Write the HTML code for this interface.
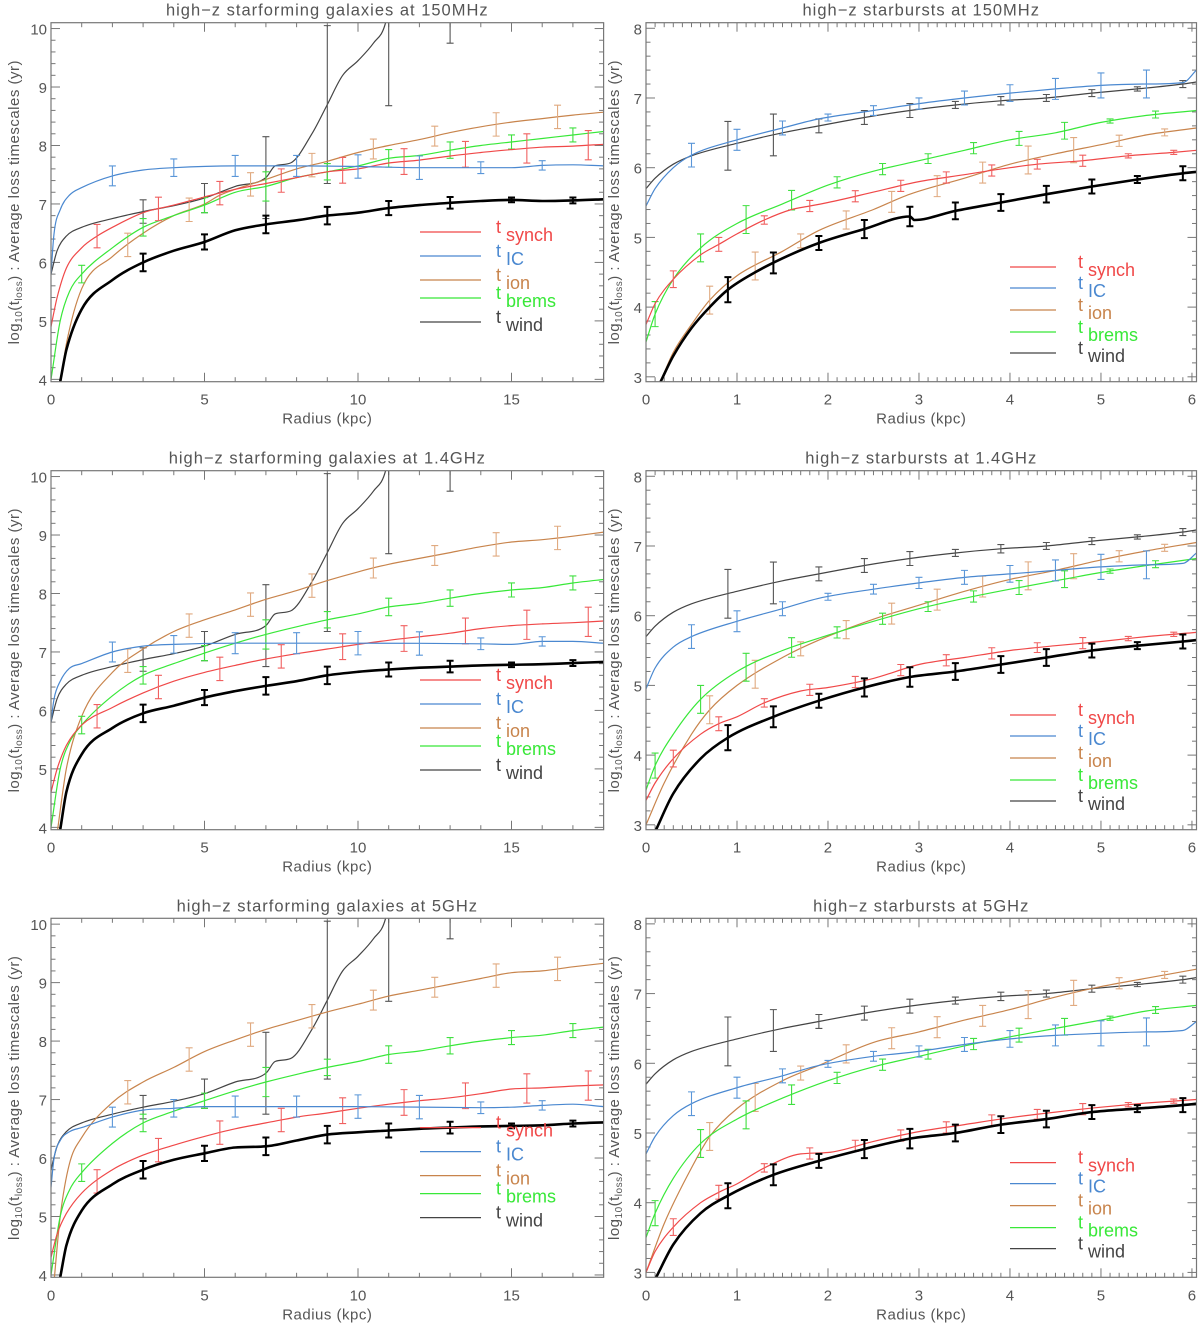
<!DOCTYPE html>
<html><head><meta charset="utf-8"><style>
html,body{margin:0;padding:0;background:#fff;}
svg{display:block;font-family:"Liberation Sans",sans-serif;}
</style></head><body>
<svg id="fig" width="1200" height="1324" viewBox="0 0 1200 1324" xmlns="http://www.w3.org/2000/svg"></svg>
<script>
// ---- data ----
const titles = ["high\u2212z starforming galaxies at 150MHz","high\u2212z starbursts at 150MHz","high\u2212z starforming galaxies at 1.4GHz","high\u2212z starbursts at 1.4GHz","high\u2212z starforming galaxies at 5GHz","high\u2212z starbursts at 5GHz"];
const leftXTicks = [0,5,10,15];
const rightXTicks = [0,1,2,3,4,5,6];
const leftYTicks = [4,5,6,7,8,9,10];
const rightYTicks = [3,4,5,6,7,8];
const legendNames = ["synch","IC","ion","brems","wind"];

const windL = [[0,5.8],[0.2,6.2],[0.5,6.45],[1,6.6],[2,6.75],[3,6.87],[4,6.97],[5,7.1],[6,7.3],[7,7.45],[7.3,7.65],[7.8,7.7],[8.5,8.2],[9,8.7],[9.5,9.2],[10,9.45],[10.5,9.75],[10.9,10.1],[11,10.4],[12,10.7],[13,11.0],[18,12]];
const windLErr = [[3,0.2],[5,0.25],[7,0.7],[9,1.35],[11,1.72],[13,1.25]];
const windR = [[0,5.7],[0.1,5.85],[0.3,6.05],[0.5,6.17],[1,6.35],[1.5,6.5],[1.9,6.6],[2.4,6.72],[2.9,6.82],[3.4,6.9],[3.9,6.96],[4.4,7.0],[4.9,7.07],[5.4,7.13],[5.9,7.2],[6.05,7.23]];
const windRErr = [[0.9,0.35],[1.4,0.3],[1.9,0.1],[2.4,0.1],[2.9,0.1],[3.4,0.05],[3.9,0.06],[4.4,0.05],[4.9,0.05],[5.4,0.03],[5.9,0.05]];

const A_total=[[0.3,3.96],[0.5,4.5],[1,5.2],[2,5.7],[3,6.0],[4,6.2],[5,6.35],[6,6.55],[7,6.65],[8,6.72],[9,6.8],[10,6.85],[11,6.93],[12,6.98],[13,7.02],[14,7.05],[15,7.07],[16,7.05],[17,7.06],[18,7.08]];
const A_synch=[[0,4.9],[0.2,5.4],[0.5,5.9],[1,6.25],[1.5,6.45],[2,6.6],[3,6.85],[4,6.98],[5,7.12],[6,7.25],[7,7.35],[8,7.45],[9,7.55],[10,7.6],[11,7.7],[12,7.75],[13,7.82],[14,7.88],[15,7.93],[16,7.97],[17,7.99],[18,8.02]];
const A_IC=[[0,5.8],[0.1,6.5],[0.3,6.9],[0.6,7.15],[1,7.28],[2,7.48],[3,7.58],[4,7.62],[6,7.65],[8,7.65],[10,7.64],[12,7.62],[14,7.62],[15,7.62],[16,7.66],[17,7.67],[18,7.65]];
const A_ion=[[0.3,3.9],[0.5,4.6],[1,5.55],[2,6.1],[3,6.5],[4,6.8],[5,7.0],[5.5,7.15],[6,7.25],[7,7.42],[8,7.6],[9,7.73],[10,7.88],[11,8.0],[12,8.1],[13,8.22],[14,8.32],[15,8.4],[16,8.46],[17,8.52],[18,8.57]];
const A_brems=[[0,4.0],[0.3,5.0],[0.6,5.5],[1,5.8],[2,6.25],[3,6.6],[4,6.8],[5,6.98],[6,7.2],[7,7.3],[8,7.45],[9,7.55],[10,7.65],[11,7.78],[12,7.83],[13,7.92],[14,8.0],[15,8.06],[16,8.12],[17,8.18],[18,8.24]];
const C_total=[[0.3,3.96],[0.5,4.6],[1,5.25],[2,5.7],[3,5.95],[4,6.08],[5,6.22],[6,6.33],[7,6.42],[8,6.5],[9,6.6],[10,6.66],[11,6.7],[12,6.73],[13,6.75],[14,6.77],[15,6.78],[16,6.79],[17,6.81],[18,6.83]];
const C_synch=[[0,4.6],[0.2,5.0],[0.5,5.4],[1,5.75],[2,6.05],[3,6.3],[4,6.5],[5,6.65],[6,6.77],[7,6.88],[8,6.97],[9,7.05],[10,7.13],[11,7.2],[12,7.26],[13,7.32],[14,7.4],[15,7.45],[16,7.48],[17,7.5],[18,7.53]];
const C_IC=[[0,5.8],[0.1,6.2],[0.3,6.5],[0.6,6.72],[1,6.8],[2,7.0],[3,7.1],[4,7.13],[6,7.15],[10,7.15],[14,7.14],[15,7.13],[16,7.18],[17,7.18],[18,7.15]];
const C_ion=[[0.2,3.9],[0.5,5.0],[1,5.9],[2,6.65],[3,7.05],[4,7.35],[5,7.55],[6,7.72],[7,7.9],[8,8.05],[9,8.22],[10,8.37],[11,8.5],[12,8.6],[13,8.7],[14,8.8],[15,8.88],[16,8.92],[17,8.98],[18,9.05]];
const C_brems=[[0,4.0],[0.3,5.0],[0.6,5.45],[1,5.75],[2,6.25],[3,6.6],[4,6.8],[5,6.98],[6,7.15],[7,7.3],[8,7.43],[9,7.55],[10,7.65],[11,7.77],[12,7.83],[13,7.92],[14,8.0],[15,8.06],[16,8.1],[17,8.18],[18,8.24]];
const E_total=[[0.3,3.96],[0.5,4.5],[1,5.1],[2,5.55],[3,5.8],[4,5.97],[5,6.08],[6,6.18],[7,6.2],[8,6.3],[9,6.4],[10,6.44],[11,6.47],[12,6.5],[13,6.52],[14,6.54],[15,6.55],[16,6.56],[17,6.59],[18,6.61]];
const E_synch=[[0,4.3],[0.2,4.7],[0.5,5.05],[1,5.4],[2,5.8],[3,6.05],[4,6.22],[5,6.37],[6,6.5],[7,6.6],[8,6.7],[9,6.77],[10,6.85],[11,6.92],[12,6.98],[13,7.03],[14,7.1],[15,7.18],[16,7.2],[17,7.23],[18,7.25]];
const E_IC=[[0,5.5],[0.1,6.0],[0.3,6.3],[0.6,6.45],[1,6.52],[2,6.7],[3,6.82],[4,6.85],[5,6.88],[10,6.88],[14,6.86],[15,6.87],[16,6.9],[17,6.92],[18,6.88]];
const E_ion=[[0.1,3.9],[0.3,5.0],[0.6,5.9],[1,6.35],[2,6.95],[3,7.3],[4,7.55],[5,7.82],[6,8.02],[7,8.2],[8,8.35],[9,8.5],[10,8.63],[11,8.77],[12,8.87],[13,8.97],[14,9.07],[15,9.17],[16,9.2],[17,9.27],[18,9.33]];
const E_brems=C_brems;
const B_total=[[0.15,2.9],[0.3,3.3],[0.5,3.7],[0.7,4.0],[0.9,4.25],[1.2,4.5],[1.5,4.7],[1.9,4.92],[2.4,5.12],[2.9,5.3],[2.95,5.25],[3.4,5.38],[3.9,5.5],[4.4,5.62],[4.9,5.73],[5.4,5.83],[5.9,5.92],[6.05,5.94]];
const B_synch=[[0,3.75],[0.1,4.05],[0.3,4.4],[0.6,4.75],[0.8,4.9],[1,5.05],[1.3,5.25],[1.6,5.4],[1.8,5.45],[2,5.5],[2.5,5.65],[3,5.8],[3.5,5.9],[4,6.0],[4.3,6.05],[4.8,6.1],[5.3,6.17],[5.8,6.22],[6.05,6.25]];
const B_IC=[[0,5.45],[0.1,5.7],[0.3,6.0],[0.5,6.18],[1,6.4],[1.5,6.57],[1.9,6.7],[2.5,6.82],[3,6.92],[3.5,7.0],[4,7.07],[4.5,7.13],[5,7.18],[5.5,7.2],[5.9,7.22],[6.05,7.4]];
const B_ion=[[0.15,2.9],[0.3,3.35],[0.5,3.75],[0.7,4.1],[1,4.45],[1.5,4.8],[1.9,5.1],[2.5,5.4],[2.9,5.62],[3.5,5.85],[4,6.05],[4.5,6.2],[5,6.33],[5.5,6.47],[6.05,6.57]];
const B_brems=[[0,3.5],[0.1,3.9],[0.3,4.4],[0.6,4.85],[1,5.2],[1.5,5.48],[2,5.75],[2.5,5.95],[3,6.1],[3.5,6.25],[4,6.4],[4.5,6.5],[5,6.65],[5.5,6.75],[6.05,6.82]];
const D_total=[[0.1,2.9],[0.3,3.45],[0.6,3.95],[0.9,4.25],[1.4,4.55],[1.9,4.78],[2.4,4.97],[2.9,5.12],[3.4,5.2],[3.9,5.3],[4.4,5.4],[4.9,5.5],[5.4,5.57],[5.9,5.63],[6.05,5.65]];
const D_synch=[[0,3.35],[0.1,3.6],[0.3,3.95],[0.6,4.3],[0.8,4.45],[1,4.55],[1.3,4.75],[1.7,4.92],[2,4.97],[2.5,5.1],[3,5.3],[3.5,5.4],[4,5.5],[4.5,5.57],[5,5.63],[5.5,5.7],[6.05,5.76]];
const D_IC=[[0,4.95],[0.1,5.25],[0.3,5.55],[0.5,5.7],[1,5.92],[1.5,6.1],[1.9,6.25],[2.5,6.38],[3,6.47],[3.5,6.55],[4,6.6],[4.5,6.65],[5,6.7],[5.5,6.73],[5.9,6.75],[6.05,6.9]];
const D_ion=[[0,3.0],[0.2,3.6],[0.5,4.3],[0.7,4.65],[1,5.0],[1.5,5.4],[1.9,5.65],[2.5,5.95],[3,6.15],[3.5,6.35],[4,6.52],[4.5,6.65],[5,6.8],[5.5,6.93],[6.05,7.05]];
const D_brems=[[0,3.5],[0.1,3.85],[0.3,4.3],[0.6,4.8],[1,5.2],[1.5,5.5],[2,5.72],[2.5,5.92],[3,6.1],[3.5,6.25],[4,6.38],[4.5,6.5],[5,6.62],[5.5,6.72],[6.05,6.82]];
const F_total=[[0.1,2.9],[0.3,3.4],[0.6,3.85],[0.9,4.1],[1.4,4.4],[1.9,4.6],[2.4,4.77],[2.9,4.92],[3.4,5.0],[3.9,5.12],[4.4,5.2],[4.9,5.3],[5.4,5.35],[5.9,5.4],[6.05,5.42]];
const F_synch=[[0,3.0],[0.1,3.3],[0.3,3.65],[0.6,4.0],[0.8,4.15],[1,4.27],[1.3,4.5],[1.7,4.7],[2,4.72],[2.5,4.88],[3,5.02],[3.5,5.12],[4,5.22],[4.5,5.3],[5,5.37],[5.5,5.43],[6.05,5.48]];
const F_IC=[[0,4.7],[0.1,4.95],[0.3,5.25],[0.5,5.42],[1,5.65],[1.5,5.82],[1.9,5.97],[2.5,6.1],[3,6.17],[3.5,6.27],[4,6.35],[4.5,6.4],[5,6.43],[5.5,6.45],[5.9,6.47],[6.05,6.6]];
const F_ion=[[0,3.0],[0.2,3.7],[0.5,4.5],[0.7,4.95],[1,5.35],[1.5,5.75],[1.9,5.97],[2.5,6.3],[3,6.45],[3.5,6.62],[4,6.77],[4.5,6.95],[5,7.1],[5.5,7.22],[6.05,7.35]];
const F_brems=[[0,3.5],[0.1,3.85],[0.3,4.35],[0.6,4.85],[1,5.2],[1.5,5.5],[2,5.75],[2.5,5.95],[3,6.1],[3.5,6.25],[4,6.38],[4.5,6.5],[5,6.62],[5.5,6.75],[6.05,6.83]];

const L_totErr=[[3,0.15],[5,0.13],[7,0.15],[9,0.15],[11,0.12],[13,0.1],[15,0.04],[17,0.05]];
const L_synErr=[[1.5,0.2],[3.5,0.2],[5.5,0.2],[7.5,0.2],[9.5,0.22],[11.5,0.22],[13.5,0.22],[15.5,0.25],[17.5,0.25]];
const L_icErr=[[2,0.17],[4,0.15],[6,0.18],[8,0.18],[10,0.2],[12,0.2],[14,0.1],[16,0.08]];
const L_ionErr=[[2.5,0.2],[4.5,0.2],[6.5,0.2],[8.5,0.2],[10.5,0.17],[12.5,0.17],[14.5,0.2],[16.5,0.2]];
const L_brErr=[[1,0.15],[3,0.15],[5,0.13],[7,0.25],[9,0.14],[11,0.15],[13,0.14],[15,0.12],[17,0.12]];
const R_totErr=[[0.9,0.18],[1.4,0.15],[1.9,0.1],[2.4,0.13],[2.9,0.14],[3.4,0.12],[3.9,0.12],[4.4,0.12],[4.9,0.1],[5.4,0.05],[5.9,0.1]];
const R_synErr=[[0.3,0.12],[0.8,0.1],[1.3,0.06],[1.8,0.08],[2.3,0.08],[2.8,0.08],[3.3,0.08],[3.8,0.08],[4.3,0.07],[4.8,0.08],[5.3,0.03],[5.8,0.03]];
const R_icErr=[[0.5,0.17],[1,0.15],[1.5,0.1],[2,0.05],[2.5,0.07],[3,0.08],[3.5,0.1],[4,0.12],[4.5,0.15],[5,0.18],[5.5,0.2]];
const R_ionErr=[[0.7,0.2],[1.2,0.2],[1.7,0.1],[2.2,0.13],[2.7,0.15],[3.2,0.15],[3.7,0.15],[4.2,0.2],[4.7,0.18],[5.2,0.08],[5.7,0.05]];
const R_brErr=[[0.1,0.18],[0.6,0.2],[1.1,0.2],[1.6,0.14],[2.1,0.08],[2.6,0.08],[3.1,0.07],[3.6,0.08],[4.1,0.1],[4.6,0.12],[5.1,0.03],[5.6,0.05]];

const COL={synch:"#f04848",IC:"#4a88d0",ion:"#c8844c",brems:"#38e838",wind:"#444444",total:"#000"};
const ERRCOL={synch:"#f06060",IC:"#5a96d8",ion:"#e0aa80",brems:"#40e040",wind:"#555",total:"#000"};

const panels=[
 {side:"L",row:0,title:titles[0],s:{synch:A_synch,IC:A_IC,ion:A_ion,brems:A_brems,wind:windL,total:A_total}},
 {side:"R",row:0,title:titles[1],s:{synch:B_synch,IC:B_IC,ion:B_ion,brems:B_brems,wind:windR,total:B_total}},
 {side:"L",row:1,title:titles[2],s:{synch:C_synch,IC:C_IC,ion:C_ion,brems:C_brems,wind:windL,total:C_total}},
 {side:"R",row:1,title:titles[3],s:{synch:D_synch,IC:D_IC,ion:D_ion,brems:D_brems,wind:windR,total:D_total}},
 {side:"L",row:2,title:titles[4],s:{synch:E_synch,IC:E_IC,ion:E_ion,brems:E_brems,wind:windL,total:E_total}},
 {side:"R",row:2,title:titles[5],s:{synch:F_synch,IC:F_IC,ion:F_ion,brems:F_brems,wind:windR,total:F_total}},
];

const NS="http://www.w3.org/2000/svg";
const svg=document.getElementById("fig");
function mk(tag,attrs,parent){const e=document.createElementNS(NS,tag);for(const k in attrs)e.setAttribute(k,attrs[k]);(parent||svg).appendChild(e);return e;}
function interp(arr,x){if(x<=arr[0][0])return arr[0][1];for(let i=1;i<arr.length;i++){if(x<=arr[i][0]){const a=arr[i-1],b=arr[i];return a[1]+(b[1]-a[1])*(x-a[0])/(b[0]-a[0]);}}return arr[arr.length-1][1];}
// monotone cubic path in pixel space
function smoothPath(pts){
  const n=pts.length;if(n<3)return pts.map((p,i)=>(i?"L":"M")+p[0]+","+p[1]).join("");
  const d=[],m=[];
  for(let i=0;i<n-1;i++)d.push((pts[i+1][1]-pts[i][1])/(pts[i+1][0]-pts[i][0]));
  m[0]=d[0];m[n-1]=d[n-2];
  for(let i=1;i<n-1;i++){m[i]=(d[i-1]*d[i]<=0)?0:(d[i-1]+d[i])/2;}
  for(let i=0;i<n-1;i++){if(d[i]===0){m[i]=0;m[i+1]=0;continue;}const a=m[i]/d[i],b=m[i+1]/d[i],s=a*a+b*b;if(s>9){const t=3/Math.sqrt(s);m[i]=t*a*d[i];m[i+1]=t*b*d[i];}}
  let s="M"+pts[0][0].toFixed(1)+","+pts[0][1].toFixed(1);
  for(let i=0;i<n-1;i++){const h=pts[i+1][0]-pts[i][0];
    s+="C"+(pts[i][0]+h/3).toFixed(1)+","+(pts[i][1]+m[i]*h/3).toFixed(1)+" "+(pts[i+1][0]-h/3).toFixed(1)+","+(pts[i+1][1]-m[i+1]*h/3).toFixed(1)+" "+pts[i+1][0].toFixed(1)+","+pts[i+1][1].toFixed(1);}
  return s;
}

const rowTop=[22.7,470.7,918.3];
const H=359;
panels.forEach((p,pi)=>{
  const L=p.side==="L";
  const x0=L?51:646, x1=L?603.6:1196.5;
  const xmin=0,xmax=L?18:6.05;
  const ymin=L?3.96:2.93, ymax=L?10.1:8.08;
  const top=rowTop[p.row], bot=top+H;
  const X=v=>x0+(v-xmin)/(xmax-xmin)*(x1-x0);
  const Y=v=>bot-(v-ymin)/(ymax-ymin)*(bot-top);
  const g=mk("g",{});
  
  
  const t=mk("text",{x:(x0+x1)/2,y:top-7,"text-anchor":"middle","font-size":"16.5",fill:"#555","letter-spacing":"1"},g);
  t.textContent=p.title;
  
  
  const cp=mk("clipPath",{id:"c"+pi},g);
  mk("rect",{x:x0,y:top,width:x1-x0,height:H},cp);
  const tg=mk("g",{stroke:"#777","stroke-width":"1"},g);
  
  
  const xMinorStep=L?1:0.1;
  for(let v=0;v<=xmax+1e-9;v+=xMinorStep){
    const isMaj=L?(Math.abs(v/5-Math.round(v/5))<1e-6):(Math.abs(v-Math.round(v))<1e-6);
    const len=isMaj?9:4.5;const xx=X(v);
    mk("line",{x1:xx,x2:xx,y1:bot,y2:bot-len},tg);
    mk("line",{x1:xx,x2:xx,y1:top,y2:top+len},tg);
  }
  for(let v=Math.ceil(ymin*5)/5;v<=ymax+1e-9;v+=0.2){
    const isMaj=Math.abs(v-Math.round(v))<1e-6;const len=isMaj?9:4.5;const yy=Y(v);
    mk("line",{x1:x0,x2:x0+len,y1:yy,y2:yy},tg);
    mk("line",{x1:x1,x2:x1-len,y1:yy,y2:yy},tg);
  }
  (L?leftXTicks:rightXTicks).forEach(v=>{
    const e=mk("text",{x:X(v),y:bot+23,"text-anchor":"middle","font-size":"15",fill:"#555"},g);
    e.textContent=v;
    
    
  });
  (L?leftYTicks:rightYTicks).forEach(v=>{
    const e=mk("text",{x:x0-4,y:Y(v)+6,"text-anchor":"end","font-size":"15",fill:"#555"},g);
    e.textContent=v;
    
    
  });
  const xt=mk("text",{x:(x0+x1)/2,y:bot+42,"text-anchor":"middle","font-size":"15",fill:"#555","letter-spacing":"0.5"},g);
  xt.textContent="Radius (kpc)";
  
  
  const yx=L?14:614, yc=(top+bot)/2;
  const yt=mk("text",{x:yx,y:yc,"text-anchor":"middle","font-size":"15",fill:"#555","letter-spacing":"0.5",transform:`rotate(-90 ${yx} ${yc})`,dy:"5"},g);
  yt.innerHTML='log<tspan font-size="10" dy="3">10</tspan><tspan dy="-3">(t</tspan><tspan font-size="10" dy="3">loss</tspan><tspan dy="-3">) : Average loss timescales (yr)</tspan>';
  
  
  const sg=mk("g",{"clip-path":`url(#c${pi})`,fill:"none"},g);
  const errs=L?{synch:L_synErr,IC:L_icErr,ion:L_ionErr,brems:L_brErr,wind:windLErr,total:L_totErr}:{synch:R_synErr,IC:R_icErr,ion:R_ionErr,brems:R_brErr,wind:windRErr,total:R_totErr};
  ["wind","ion","brems","synch","IC","total"].forEach(k=>{
    const arr=p.s[k];
    const d=smoothPath(arr.map(pt=>[X(pt[0]),Y(pt[1])]));
    const pl=mk("path",{d:d,stroke:COL[k],"stroke-width":k==="total"?2.6:1.2,"stroke-linejoin":"round"},sg);
    
    
    errs[k].forEach(e=>{
      const c=interp(arr,e[0]);const xx=X(e[0]);
      const ya=Y(c-e[1]),yb=Y(c+e[1]);const w=k==="total"?2:1.1;
      const eg=mk("path",{d:`M${xx},${ya}L${xx},${yb}M${xx-3.5},${ya}L${xx+3.5},${ya}M${xx-3.5},${yb}L${xx+3.5},${yb}`,stroke:ERRCOL[k],"stroke-width":w},sg);
      
      
    });
  });
  const fr=mk("rect",{x:x0,y:top,width:x1-x0,height:H,fill:"none",stroke:"#777","stroke-width":"1.2"},g);
  
  
  const lg=mk("g",{},g);
  
  
  const lx0=L?420:1010, lx1=L?481:1056, tx=L?496:1078;
  const ly=L?[232,256,280,298,322]:[267,288,310,332,353];
  legendNames.forEach((n,i)=>{
    const yy=top-22.7+ly[i];
    const ent=mk("g",{},lg);
    
    
    mk("line",{x1:lx0,x2:lx1,y1:yy,y2:yy,stroke:COL[n],"stroke-width":1.2},ent);
    const tt=mk("text",{x:tx,y:yy+1,"font-size":"18",fill:COL[n]},ent);tt.textContent="t";
    const tw=mk("text",{x:tx+10,y:yy+9,"font-size":"18",fill:COL[n]},ent);tw.textContent=n;
  });
});
</script>
</body></html>
